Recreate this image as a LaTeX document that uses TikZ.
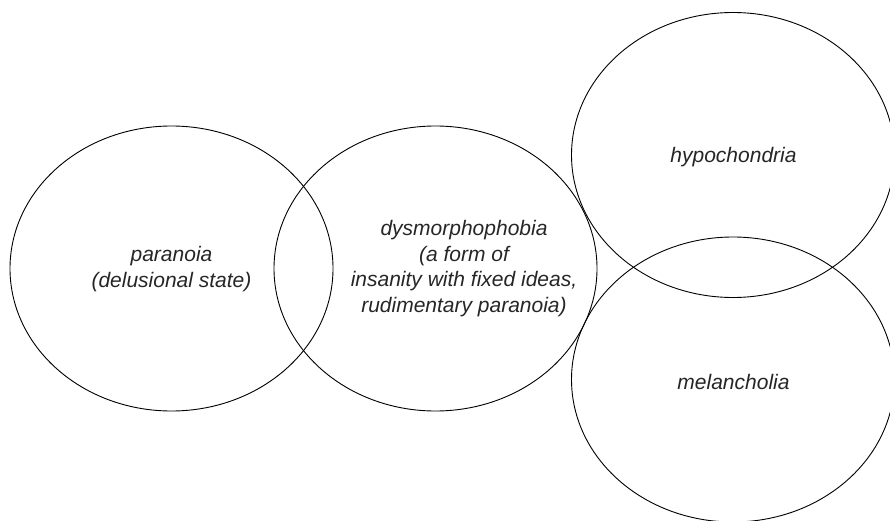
\documentclass[tikz,border=0pt]{standalone}
\usepackage{fontspec}
\setmainfont{Liberation Sans}
\usetikzlibrary{shapes.geometric}
\begin{document}
\begin{tikzpicture}[x=1pt,y=1pt,
  oval/.style={ellipse, draw=black, line width=0.9pt, minimum width=323pt, minimum height=285pt, inner sep=0pt},
  lbl/.style={align=center, text=black!85, font=\fontsize{21}{25.5}\selectfont\itshape, inner sep=0pt}]
\useasboundingbox (0,0) rectangle (890,520);
\node[oval] (e1) at (171.5,251.5) {};
\node[oval] (e2) at (435.5,251.5) {};
\node[oval] (e3) at (733,365) {};
\node[oval] (e4) at (733,140.5) {};
\node[lbl] (t1) at (171.5,251) {paranoia\\(delusional state)};
\node[lbl] (t2) at (464,251.5) {dysmorphophobia\\(a form of\\insanity with fixed ideas,\\rudimentary paranoia)};
\node[lbl] (t3) at (733.5,363) {hypochondria};
\node[lbl] (t4) at (733.5,138) {melancholia};
\end{tikzpicture}
\end{document}
